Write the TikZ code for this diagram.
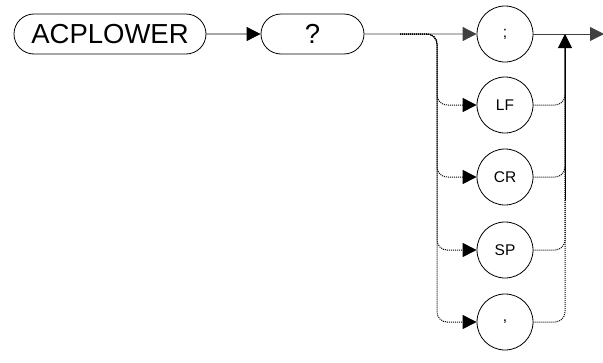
\documentclass[tikz,border=0pt]{standalone}
\usepackage{fontspec}
\setmainfont{Liberation Sans}
\usetikzlibrary{arrows.meta,shapes.misc}
\begin{document}
\begin{tikzpicture}[x=1pt,y=-1pt,
  kw/.style={draw, line width=0.8pt, rounded rectangle, minimum height=40pt, inner xsep=2pt, inner ysep=0pt,
    font=\fontsize{27.5}{31}\selectfont},
  term/.style={draw, line width=0.8pt, circle, minimum size=56pt, inner sep=0pt, font=\fontsize{15.5}{19}\selectfont},
  arr/.style={line width=0.8pt, -{Triangle[length=14pt,width=14pt]}},
  dotline/.style={line width=1pt, densely dotted, rounded corners=10pt},
  dotarr/.style={dotline, -{Triangle[length=14pt,width=14pt]}},
  ]
\useasboundingbox (0,0) rectangle (603,362);
\node[kw, minimum width=196pt] (acp) at (110,34) {ACPLOWER};
\node[kw, minimum width=107pt] (q) at (312.5,34) {?};
\node[term] (semi) at (505,34) {;};
\node[term] (lf) at (505,105) {LF};
\node[term] (cr) at (505,177) {CR};
\node[term] (sp) at (505,250) {SP};
\node[term] (comma) at (505,322) {,};
\coordinate (split) at (400,34);
\coordinate (lx) at (437,34);
\coordinate (join) at (565,34);
\coordinate (abase) at (565,48);
\coordinate (sbot) at (565,200);
\coordinate (out) at (604,34);
% solid path
\draw[arr] (acp) -- (q);
\draw[arr, black!75] (q) -- (semi);
\draw[arr, black!75] (semi.east) -- (out);
% dotted alternatives
\foreach \n in {lf,cr,sp,comma}{
  \draw[dotarr] (split) -| (lx |- \n.west) -- (\n.west);
  \draw[dotline] (\n.east) -| (abase);
}
\draw[arr] (sbot) -- (join);
\end{tikzpicture}
\end{document}
